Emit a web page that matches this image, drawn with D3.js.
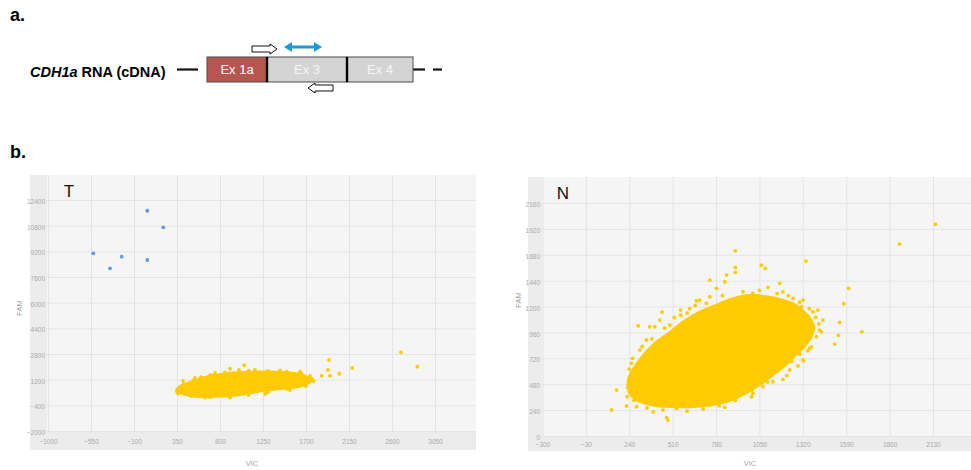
<!DOCTYPE html>
<html>
<head>
<meta charset="utf-8">
<script src="https://cdn.jsdelivr.net/npm/d3@7"></script>
<style>
  body { margin: 0; background: #fff; }
  svg { display: block; font-family: "Liberation Sans", Arial, sans-serif; }
</style>
</head>
<body>
<svg id="fig" width="971" height="470"></svg>
<script>
// ---- axis ticks ----
const tTicksX = [-1000, -550, -100, 350, 800, 1250, 1700, 2150, 2600, 3050];
const tTicksY = [-2000, -400, 1200, 2800, 4400, 6000, 7600, 9200, 10800, 12400];
const nTicksX = [-300, -30, 240, 510, 780, 1050, 1320, 1590, 1860, 2130];
const nTicksY = [0, 240, 480, 720, 960, 1200, 1440, 1680, 1920, 2160];

// ---- T sample: FAM-positive droplets [VIC, FAM] ----
const tFamPos = [[-526, 9076], [-351, 8141], [-229, 8864], [39, 11731], [207, 10697], [39, 8659]];

// ---- T sample: outline of the dense FAM-negative droplet cloud [VIC, FAM] ----
const tCloud = [
  [340, 556], [381, 805], [486, 1054], [591, 1272], [695, 1459], [852, 1584], [1009, 1677],
  [1219, 1709], [1501, 1659], [1637, 1553], [1721, 1366], [1763, 1179], [1721, 961],
  [1637, 761], [1428, 618], [1219, 462], [1009, 244], [800, 150], [591, 119], [465, 213], [381, 369]
];
// ---- T sample: individual FAM-negative droplets around the cloud ----
const tDroplets = [
  [1941, 2426], [1930, 1802], [1951, 1447], [1864, 1447], [2048, 1572], [2184, 1927],
  [2694, 2905], [2865, 2008], [1637, 1696], [1781, 1117], [905, 1883], [1054, 2095],
  [999, 1802], [521, 1160], [413, 1117], [538, 1304], [643, 88], [905, 88], [1271, 306],
  [1533, 556], [1690, 898], [1742, 1428], [1428, 1771], [1166, 1802], [748, 1615], [360, 337],
  [420, 900], [600, 1350], [700, 1500], [850, 1650], [1100, 1760], [1300, 1750], [1500, 1700],
  [1650, 1600], [1760, 1250], [1700, 800], [1500, 620], [1300, 420], [1100, 250], [900, 120],
  [700, 110], [500, 180], [350, 450]
];

// ---- N sample: outline of the dense droplet cloud [VIC, FAM] ----
const nCloud = [
  [290, 680], [392, 855], [475, 945], [578, 1065], [680, 1155], [782, 1218], [886, 1278],
  [989, 1308], [1093, 1295], [1196, 1262], [1275, 1218], [1335, 1145], [1375, 1070],
  [1392, 1010], [1375, 925], [1335, 835], [1272, 742], [1210, 652], [1130, 560], [1048, 468],
  [945, 378], [845, 315], [741, 285], [637, 268], [513, 268], [392, 283], [292, 326],
  [242, 388], [232, 522]
];
// ---- N sample: individual droplets around the cloud ----
const nDroplets = [
  [1922, 1779], [2145, 1964], [1339, 1622], [900, 1717], [1062, 1584], [1087, 1554],
  [900, 1563], [900, 1517], [845, 1492], [741, 1445], [1605, 1369], [1575, 1226],
  [1687, 966], [1549, 1053], [1541, 933], [1518, 852], [295, 1022], [444, 1149],
  [559, 1167], [130, 241], [161, 426], [472, 170], [389, 225], [1176, 1415], [1103, 1378],
  [1196, 525], [1321, 704], [911, 364], [1000, 364], [1445, 1075], [1435, 966], [1362, 812],
  [480, 148], [399, 1013], [492, 1029], [617, 1183], [679, 1260], [741, 1291], [658, 1254],
  [782, 1369], [834, 1430], [948, 1337], [1010, 1322], [1114, 1276], [1196, 1337],
  [1259, 1276], [1321, 1260], [1311, 1198], [1383, 1152], [1414, 1167], [1424, 982],
  [1404, 920], [1373, 827], [1325, 698], [1238, 612], [1186, 688], [1134, 503], [1072, 457],
  [1010, 396], [834, 266], [741, 287], [637, 278], [534, 256], [285, 272], [223, 278],
  [227, 364], [244, 457], [244, 549], [254, 674], [306, 797], [347, 890], [368, 1013], [430, 1075],
  [1160, 600], [1250, 690], [1300, 760], [1350, 790], [1290, 650], [1220, 560],
  [520, 1100], [600, 1140], [460, 1000], [380, 900], [320, 830], [650, 1210], [720, 1230],
  [820, 1300], [560, 1120], [600, 230], [700, 250], [800, 280], [450, 240], [350, 260],
  [900, 330], [1000, 420], [1100, 500], [240, 620], [260, 720], [230, 450], [270, 330],
  [1230, 1300], [1300, 1240], [1360, 1180], [1400, 1100], [1420, 1040], [1160, 1320], [1050, 1350]
];

// ---- transcript diagram ----
const exonLabels = ["Ex 1a", "Ex 3", "Ex 4"];
const exonFills = ["#b5574f", "#d4d4d4", "#d4d4d4"];

const YELLOW = "#fecb00";
const BLUE = "#5b9cec";
const GRID = "#e2e5e8";
const TICK_TEXT = "#ababab";

const svg = d3.select("#fig");

// ---------- panel letters ----------
svg.append("text").attr("x", 10).attr("y", 21).attr("font-size", 18).attr("font-weight", "bold").text("a.");
svg.append("text").attr("x", 10).attr("y", 158).attr("font-size", 18).attr("font-weight", "bold").text("b.");

// ---------- panel a: CDH1a transcript ----------
const dia = svg.append("g");
const lbl = dia.append("text").attr("x", 30).attr("y", 76.5).attr("font-size", 14.5).attr("font-weight", "bold");
lbl.append("tspan").attr("font-style", "italic").text("CDH1a");
lbl.append("tspan").text(" RNA (cDNA)");

const exonEdges = [207, 267, 347, 413];
const exTop = 57, exH = 25, midY = exTop + exH / 2;
dia.append("line").attr("x1", 177).attr("x2", 198).attr("y1", midY).attr("y2", midY)
  .attr("stroke", "#111").attr("stroke-width", 2.2);
dia.append("line").attr("x1", 413).attr("x2", 425).attr("y1", midY).attr("y2", midY)
  .attr("stroke", "#111").attr("stroke-width", 2.2);
dia.append("line").attr("x1", 433).attr("x2", 442).attr("y1", midY).attr("y2", midY)
  .attr("stroke", "#111").attr("stroke-width", 2.2);

exonLabels.forEach((name, i) => {
  const x0 = exonEdges[i], x1 = exonEdges[i + 1];
  dia.append("rect").attr("x", x0).attr("y", exTop).attr("width", x1 - x0).attr("height", exH)
    .attr("fill", exonFills[i]).attr("stroke", "#4a4a4a").attr("stroke-width", 1);
  dia.append("text").attr("x", (x0 + x1) / 2).attr("y", midY + 4.5).attr("text-anchor", "middle")
    .attr("font-size", 13).attr("fill", i === 0 ? "#ffffff" : "#f4f4f4").text(name);
});
[267, 347].forEach(x => {
  dia.append("line").attr("x1", x).attr("x2", x).attr("y1", exTop).attr("y2", exTop + exH)
    .attr("stroke", "#000").attr("stroke-width", 2.4);
});

// open block arrows (primers)
function blockArrow(x0, x1, cy, dir) {
  const sh = 3, hh = 5, hl = 7;
  let pts;
  if (dir > 0) {
    pts = [[x0, cy - sh], [x1 - hl, cy - sh], [x1 - hl, cy - hh], [x1, cy], [x1 - hl, cy + hh], [x1 - hl, cy + sh], [x0, cy + sh]];
  } else {
    pts = [[x1, cy - sh], [x0 + hl, cy - sh], [x0 + hl, cy - hh], [x0, cy], [x0 + hl, cy + hh], [x0 + hl, cy + sh], [x1, cy + sh]];
  }
  dia.append("path").attr("d", "M" + pts.map(p => p.join(",")).join("L") + "Z")
    .attr("fill", "#fff").attr("stroke", "#111").attr("stroke-width", 1);
}
blockArrow(252, 277, 49, 1);
blockArrow(308, 333, 88, -1);

// probe double arrow
const pb = { x0: 284, x1: 322, y: 47 };
dia.append("line").attr("x1", pb.x0 + 5).attr("x2", pb.x1 - 5).attr("y1", pb.y).attr("y2", pb.y)
  .attr("stroke", "#1b9ad7").attr("stroke-width", 3);
dia.append("path").attr("d", `M${pb.x0},${pb.y}L${pb.x0 + 8},${pb.y - 5}L${pb.x0 + 8},${pb.y + 5}Z`).attr("fill", "#1b9ad7");
dia.append("path").attr("d", `M${pb.x1},${pb.y}L${pb.x1 - 8},${pb.y - 5}L${pb.x1 - 8},${pb.y + 5}Z`).attr("fill", "#1b9ad7");

// ---------- panel b: droplet scatter plots ----------
function scatterPanel(cfg) {
  const g = svg.append("g");
  const { outer, plot } = cfg;
  g.append("rect").attr("x", outer.x0).attr("y", outer.y0)
    .attr("width", outer.x1 - outer.x0).attr("height", outer.y1 - outer.y0).attr("fill", "#ececec");
  g.append("rect").attr("x", plot.x0).attr("y", plot.y0)
    .attr("width", plot.x1 - plot.x0).attr("height", plot.y1 - plot.y0).attr("fill", "#f5f5f5");

  const x = d3.scaleLinear().domain(cfg.xDomain).range(cfg.xRange);
  const y = d3.scaleLinear().domain(cfg.yDomain).range(cfg.yRange);

  const xAxis = g.append("g").attr("transform", `translate(0,${plot.y1})`)
    .call(d3.axisBottom(x).tickValues(cfg.ticksX).tickSize(-(plot.y1 - plot.y0)).tickPadding(cfg.xPad).tickFormat(d3.format("d")));
  const yAxis = g.append("g").attr("transform", `translate(${plot.x0},0)`)
    .call(d3.axisLeft(y).tickValues(cfg.ticksY).tickSize(-(plot.x1 - plot.x0)).tickPadding(2).tickFormat(d3.format("d")));
  [xAxis, yAxis].forEach(a => {
    a.select(".domain").remove();
    a.selectAll(".tick line").attr("stroke", GRID).attr("stroke-width", 1);
    a.selectAll(".tick text").attr("fill", TICK_TEXT).attr("font-size", 6.5)
      .attr("font-family", '"Liberation Sans", Arial, sans-serif');
  });
  yAxis.selectAll(".tick text").attr("dy", "0.55em");

  // dense droplet cloud
  const line = d3.line().x(d => x(d[0])).y(d => y(d[1])).curve(d3.curveCatmullRomClosed);
  g.append("path").attr("d", line(cfg.cloud)).attr("fill", YELLOW)
    .attr("stroke", YELLOW).attr("stroke-width", 2).attr("stroke-linejoin", "round");

  g.append("g").selectAll("circle").data(cfg.droplets).join("circle")
    .attr("cx", d => x(d[0])).attr("cy", d => y(d[1])).attr("r", 1.9).attr("fill", YELLOW);
  if (cfg.famPos) {
    g.append("g").selectAll("circle").data(cfg.famPos).join("circle")
      .attr("cx", d => x(d[0])).attr("cy", d => y(d[1])).attr("r", 1.9).attr("fill", BLUE);
  }

  g.append("text").attr("x", cfg.tag.x).attr("y", cfg.tag.y).attr("text-anchor", "middle")
    .attr("font-size", 17).attr("fill", "#111").text(cfg.tag.text);
  g.append("text").attr("x", cfg.vic.x).attr("y", cfg.vic.y).attr("text-anchor", "middle")
    .attr("font-size", 7.5).attr("fill", "#a5a5a5").text("VIC");
  g.append("text").attr("transform", `translate(${cfg.fam.x},${cfg.fam.y}) rotate(-90)`)
    .attr("text-anchor", "middle").attr("font-size", 7.5).attr("fill", "#a5a5a5").text("FAM");
}

scatterPanel({
  outer: { x0: 30, y0: 175, x1: 476, y1: 450 },
  plot: { x0: 47, y0: 175, x1: 476, y1: 432 },
  xDomain: [-1000, 3050], xRange: [48, 435],
  yDomain: [-2000, 12400], yRange: [431, 200],
  ticksX: tTicksX, ticksY: tTicksY, xPad: 7,
  cloud: tCloud, droplets: tDroplets, famPos: tFamPos,
  tag: { x: 69, y: 197, text: "T" },
  vic: { x: 252, y: 466 },
  fam: { x: 22, y: 308 }
});

scatterPanel({
  outer: { x0: 528, y0: 177, x1: 975, y1: 451 },
  plot: { x0: 542, y0: 177, x1: 975, y1: 436 },
  xDomain: [-300, 2130], xRange: [542.5, 933],
  yDomain: [0, 2160], yRange: [436, 203],
  ticksX: nTicksX, ticksY: nTicksY, xPad: 6,
  cloud: nCloud, droplets: nDroplets,
  tag: { x: 563, y: 199, text: "N" },
  vic: { x: 750, y: 466 },
  fam: { x: 521, y: 300 }
});
</script>
</body>
</html>
